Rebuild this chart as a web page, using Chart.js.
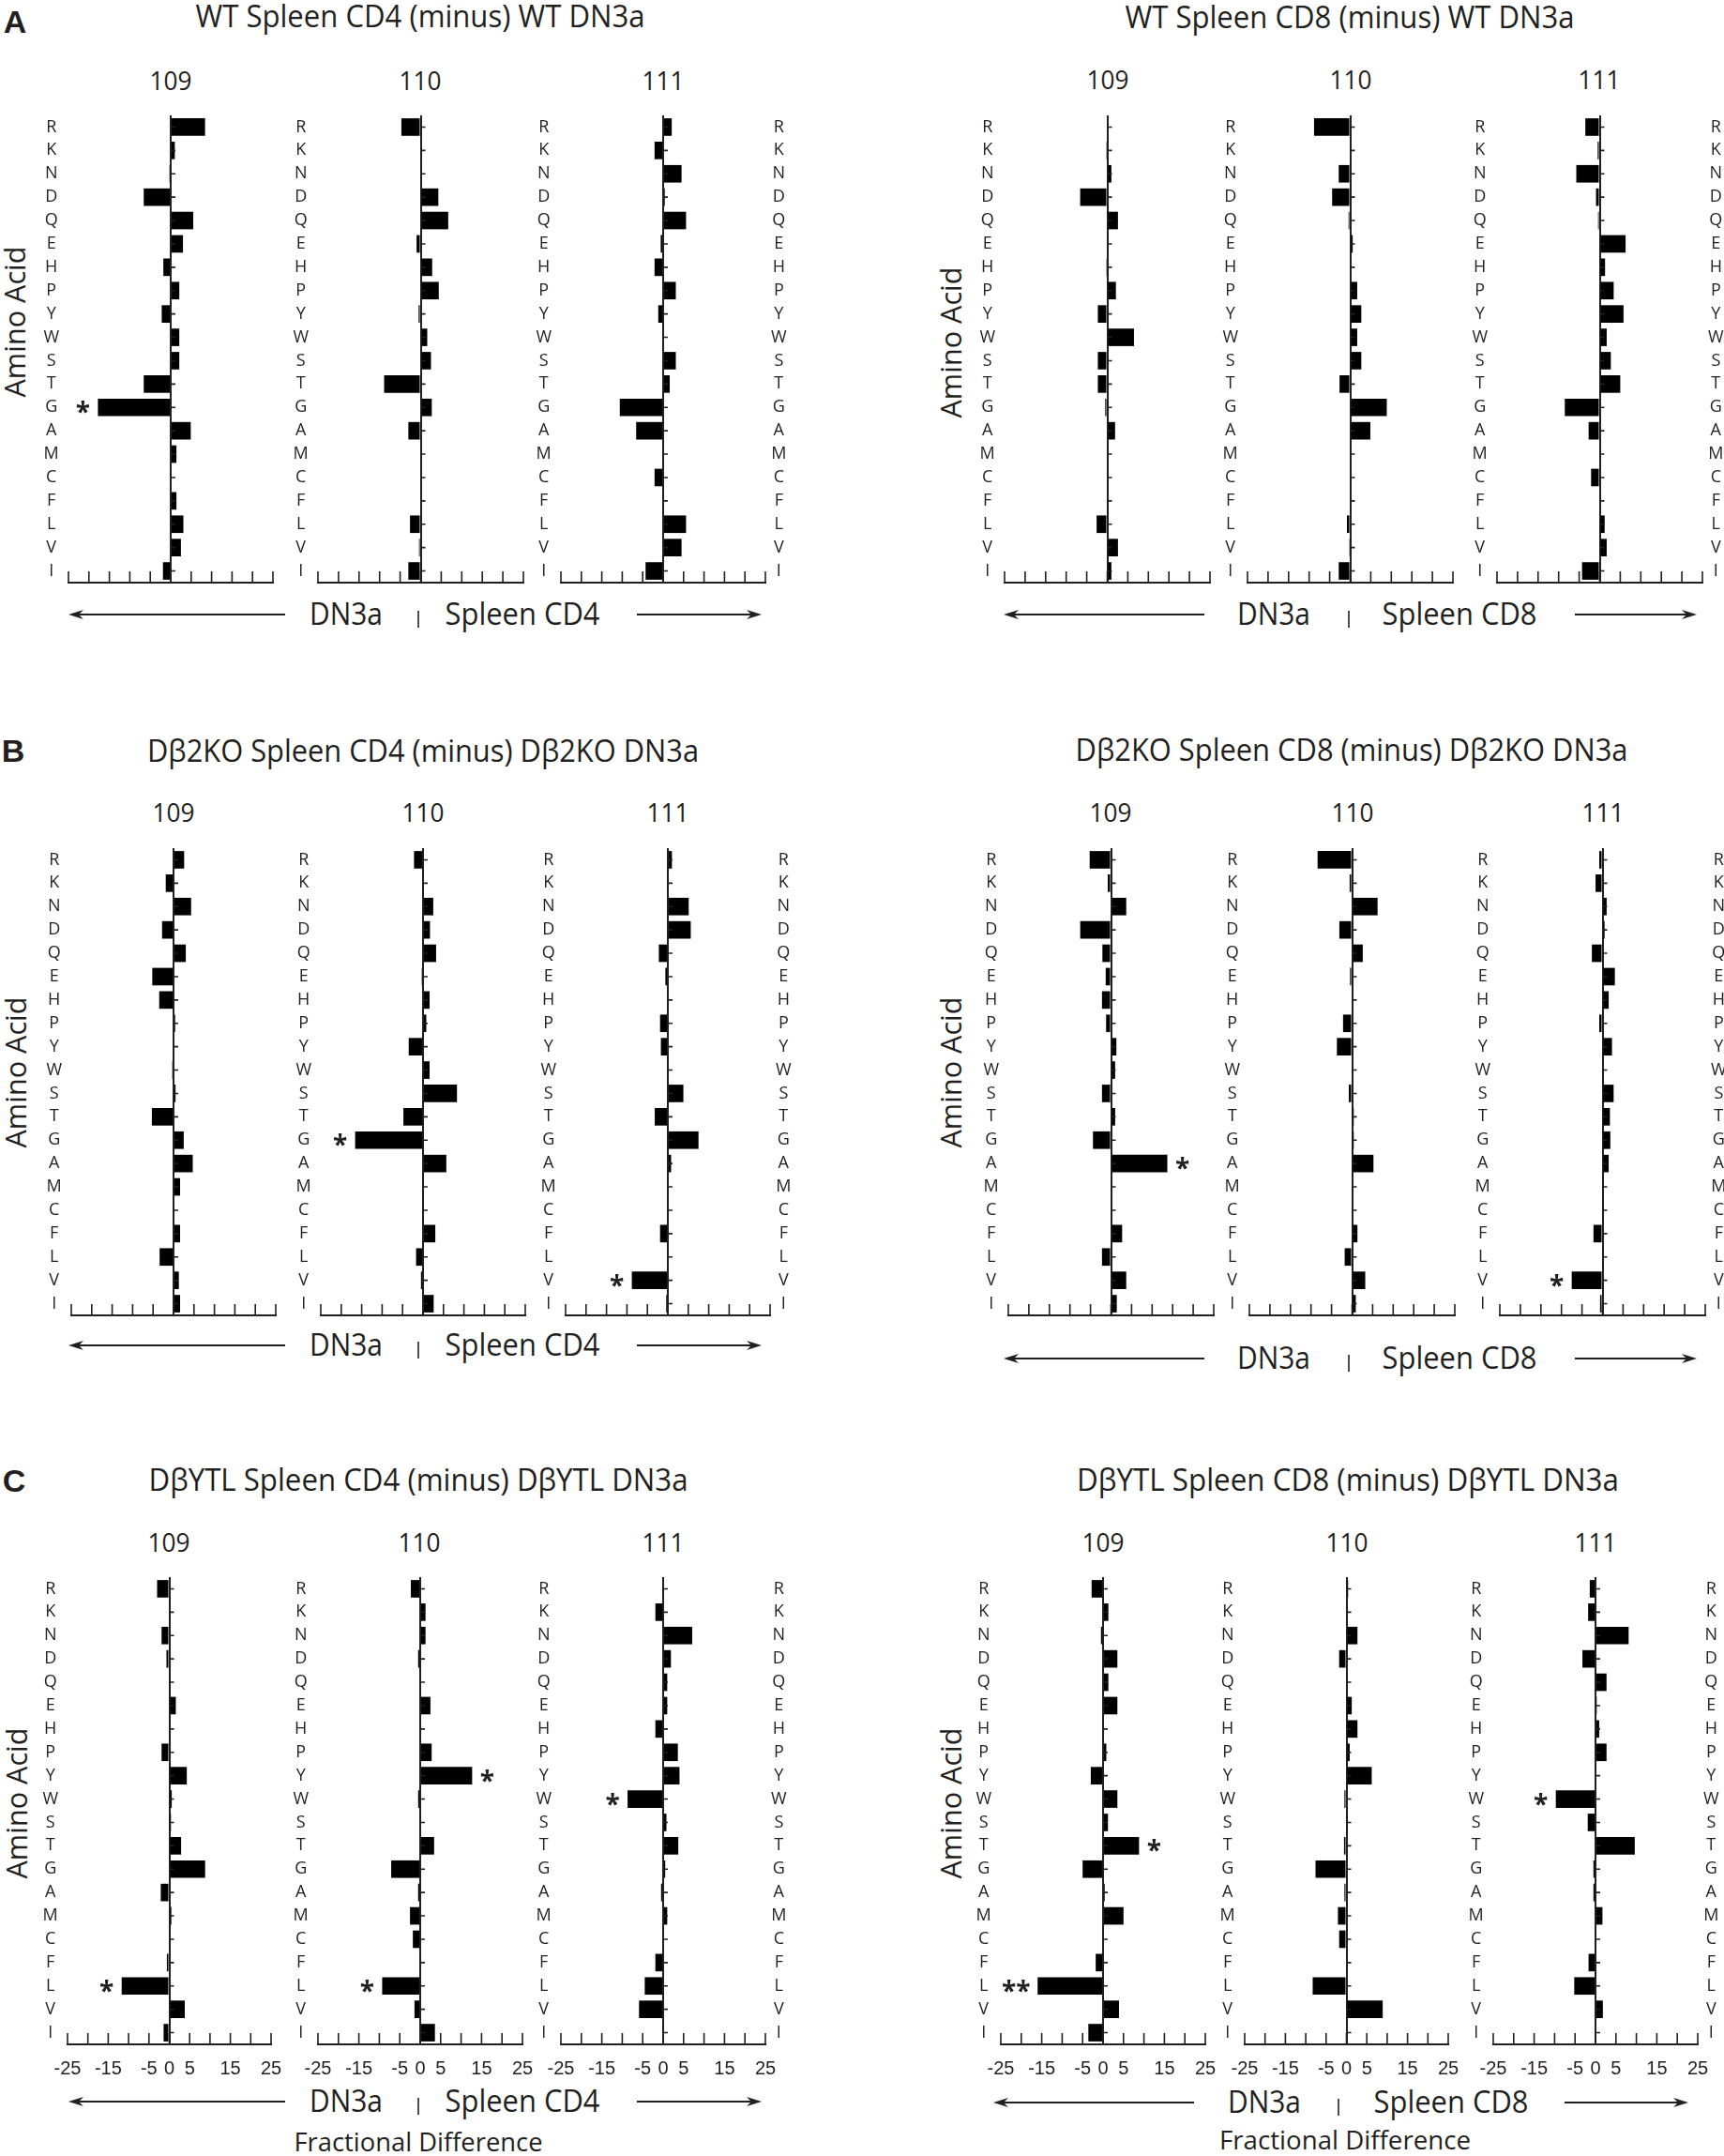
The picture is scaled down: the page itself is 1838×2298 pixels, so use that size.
<!DOCTYPE html>
<html>
<head>
<meta charset="utf-8">
<script src="https://cdn.jsdelivr.net/npm/chart.js@4.4.1/dist/chart.umd.min.js"></script>
<style>
  html, body { margin: 0; padding: 0; background: #fff; }
  #page { position: relative; width: 1838px; height: 2298px; overflow: hidden; font-family: "Open Sans", sans-serif; color: #231f20; }
  .t { position: absolute; white-space: nowrap; line-height: 1; }
  .cv { position: absolute; }
</style>
</head>
<body>
<div id="page"></div>
<script>
// amino acids, top to bottom
const aminoAcids = ['R','K','N','D','Q','E','H','P','Y','W','S','T','G','A','M','C','F','L','V','I'];
const positions = ['109', '110', '111'];
const xTickLabels = [-25, -15, -5, 0, 5, 15, 25];

// fractional difference (spleen minus DN3a), per position
// A: WT
const wtCD4_109 = [8.4, 1.0, -0.3, -6.6, 5.5, 3.0, -1.8, 2.1, -2.2, 2.1, 2.1, -6.6, -17.8, 4.9, 1.4, 0.2, 1.4, 3.1, 2.5, -1.9];
const wtCD4_110 = [-4.7, 0.2, 0.2, 4.3, 6.7, -1.0, 2.8, 4.4, -0.5, 1.6, 2.5, -8.9, 2.7, -3.0, 0, 0, 0, -2.6, -0.4, -3.0];
const wtCD4_111 = [2.1, -2.1, 4.5, 0.4, 5.6, -0.6, -2.1, 3.1, -1.2, 0, 3.1, 1.6, -10.6, -6.6, 0, -2.1, 0, 5.6, 4.5, -4.3];
const wtCD8_109 = [0, -0.3, 1.0, -6.6, 2.6, 0, -0.3, 2.1, -2.3, 6.5, -2.3, -2.3, -0.5, 1.9, 0, 0, 0, -2.6, 2.6, 1.0];
const wtCD8_110 = [-8.8, 0, -2.8, -4.4, -0.4, 0.6, 0, 1.7, 2.7, 1.7, 2.7, -2.6, 8.9, 4.9, 0, 0, 0, -0.8, -0.3, -2.8];
const wtCD8_111 = [-3.5, -0.5, -5.7, -0.9, -0.4, 6.3, 1.3, 3.4, 5.8, 1.7, 2.7, 5.0, -8.5, -2.7, 0, -2.1, 0, 1.2, 1.7, -4.3];
// B: Dβ2KO
const b2CD4_109 = [2.6, -1.9, 4.3, -2.8, 3.0, -5.2, -3.5, 0.4, 0, -0.3, 0.5, -5.3, 2.5, 4.7, 1.6, 0, 1.6, -3.4, 1.3, 1.6];
const b2CD4_110 = [-2.2, -0.2, 2.5, 1.7, 3.2, -0.3, 1.6, 0.8, -3.5, 1.6, 8.3, -4.8, -16.6, 5.7, 0, 0, 3.0, -1.7, -0.5, 2.6];
const b2CD4_111 = [1.0, -0.2, 5.1, 5.6, -2.2, -0.6, 0, -1.9, -1.7, 0, 3.8, -3.2, 7.5, 0.8, 0, 0, -1.9, 0, -8.8, -0.4];
const b2CD8_109 = [-5.2, -0.8, 3.7, -7.5, -2.1, -1.3, -2.2, -1.2, 1.3, 1.0, -2.2, 1.0, -4.4, 13.7, 0, 0, 2.7, -2.2, 3.7, 1.4];
const b2CD8_110 = [-8.4, -0.6, 6.2, -3.1, 2.6, -0.5, 0, -2.2, -3.7, 0, -0.8, 0.4, 0.4, 5.2, 0, 0, 1.3, -1.8, 3.2, 0.9];
const b2CD8_111 = [-0.8, -1.7, 1.0, 0.5, -2.6, 3.0, 1.5, -0.8, 2.3, 0, 2.7, 1.8, 1.9, 1.5, 0, 0, -2.2, 0, -7.5, -0.6];
// C: DβYTL
const ytlCD4_109 = [-3.0, 0, -1.9, -0.7, 0, 1.6, 0, -1.9, 4.3, 0.6, 0.4, 2.9, 8.8, -2.1, 0.5, 0, -0.6, -11.7, 3.8, -1.4];
const ytlCD4_110 = [-2.3, 1.3, 1.3, -0.5, 0, 2.5, 0, 2.8, 12.7, -0.5, 0, 3.4, -7.1, -0.5, -2.5, -1.8, 0, -9.3, -1.4, 3.6];
const ytlCD4_111 = [0.2, -1.9, 7.1, 1.9, 1.0, 1.0, -1.9, 3.6, 4.0, -8.7, 0.8, 3.7, 0.5, -0.5, 1.0, 0, -1.9, -4.5, -5.9, 0];
const ytlCD8_109 = [-2.8, 1.3, -0.5, 3.5, 1.3, 3.5, 0, 0.8, -3.0, 3.5, 1.2, 8.8, -5.0, 0.4, 5.0, 0, -1.8, -16.0, 3.9, -3.6];
const ytlCD8_110 = [0.4, 0, 2.7, -1.8, 0, 1.3, 2.7, 0.8, 6.2, -0.5, 0.3, -0.6, -7.6, -0.5, -2.1, -1.8, 0, -8.3, 8.9, 0];
const ytlCD8_111 = [-1.4, -1.8, 8.1, -3.2, 2.7, 0.3, 0.9, 2.7, 0, -9.7, -1.9, 9.6, -0.5, -0.5, 1.7, 0, -1.7, -5.2, 1.8, 0];

// significance marks: [series, amino acid, mark]
const starMarks = [
  ['wtCD4_109', 'G', '*'],
  ['b2CD4_110', 'G', '*'],
  ['b2CD4_111', 'V', '*'],
  ['b2CD8_109', 'A', '*'],
  ['b2CD8_111', 'V', '*'],
  ['ytlCD4_109', 'L', '*'],
  ['ytlCD4_110', 'Y', '*'],
  ['ytlCD4_110', 'L', '*'],
  ['ytlCD4_111', 'W', '*'],
  ['ytlCD8_109', 'T', '*'],
  ['ytlCD8_109', 'L', '**'],
  ['ytlCD8_111', 'W', '*']
];

const series = {
  wtCD4_109, wtCD4_110, wtCD4_111, wtCD8_109, wtCD8_110, wtCD8_111,
  b2CD4_109, b2CD4_110, b2CD4_111, b2CD8_109, b2CD8_110, b2CD8_111,
  ytlCD4_109, ytlCD4_110, ytlCD4_111, ytlCD8_109, ytlCD8_110, ytlCD8_111
};

const INK = '#231f20';
const ROW = 24.9;
const page = document.getElementById('page');

// panel layout (pixel positions only)
const panels = [
  { key: 'wtCD4', title: 'WT Spleen CD4 (minus) WT DN3a', cell: 'Spleen CD4', rowR: 135, titleX: 448, titleY: 17, titleW: 479, numY: 85,
    xs: [[73, 291], [338.5, 557], [598, 816]], aa: [15, 343], arrowY: 655, arrow: [73, 304, 369, 446, 557, 679, 812], ticks: false },
  { key: 'wtCD8', title: 'WT Spleen CD8 (minus) WT DN3a', cell: 'Spleen CD8', rowR: 135, titleX: 1439, titleY: 18, titleW: 479, numY: 84,
    xs: [[1071, 1290], [1330, 1549], [1596, 1814.5]], aa: [1013, 365], arrowY: 655, arrow: [1070, 1284, 1358, 1438, 1556, 1679, 1809], ticks: false },
  { key: 'b2CD4', title: 'Dβ2KO Spleen CD4 (minus) Dβ2KO DN3a', cell: 'Spleen CD4', rowR: 916, titleX: 451, titleY: 800, titleW: 588, numY: 865,
    xs: [[76, 294], [342, 560], [603, 820.5]], aa: [16, 1143], arrowY: 1434, arrow: [73, 304, 369, 446, 557, 679, 812], ticks: false },
  { key: 'b2CD8', title: 'Dβ2KO Spleen CD8 (minus) Dβ2KO DN3a', cell: 'Spleen CD8', rowR: 916, titleX: 1441, titleY: 799, titleW: 589, numY: 865,
    xs: [[1074.5, 1293], [1332, 1551], [1599, 1818]], aa: [1013, 1143], arrowY: 1448, arrow: [1070, 1284, 1358, 1438, 1556, 1679, 1809], ticks: false },
  { key: 'ytlCD4', title: 'DβYTL Spleen CD4 (minus) DβYTL DN3a', cell: 'Spleen CD4', rowR: 1693, titleX: 446, titleY: 1577, titleW: 575, numY: 1643,
    xs: [[72, 288.5], [338.5, 556], [598, 816]], aa: [17, 1922], arrowY: 2240, arrow: [73, 304, 369, 446, 557, 679, 812], ticks: true, fdX: 446, fdY: 2282, fdW: 265 },
  { key: 'ytlCD8', title: 'DβYTL Spleen CD8 (minus) DβYTL DN3a', cell: 'Spleen CD8', rowR: 1693, titleX: 1437, titleY: 1577, titleW: 578, numY: 1643,
    xs: [[1067, 1285], [1327, 1544], [1592, 1810]], aa: [1013, 1922], arrowY: 2241, arrow: [1059, 1273, 1348, 1427, 1547, 1668, 1800], ticks: true, fdX: 1434, fdY: 2280, fdW: 268 }
];

const letters = [['A', 16, 23], ['B', 14, 800], ['C', 15, 1578]];

function addText(txt, cx, cy, size, targetW, o) {
  o = o || {};
  const el = document.createElement('div');
  el.className = 't';
  el.textContent = txt;
  el.style.fontSize = size + 'px';
  if (o.family) el.style.fontFamily = o.family;
  if (o.bold) el.style.fontWeight = '700';
  page.appendChild(el);
  const w = el.getBoundingClientRect().width;
  const sx = targetW ? targetW / w : 1;
  el.style.left = cx + 'px';
  el.style.top = cy + 'px';
  el.style.transform = 'translate(-50%,-50%)' + (o.rotate ? ' rotate(-90deg)' : '') + ' scaleX(' + sx.toFixed(4) + ')';
}

// ticks on the axis, little row ticks on the zero line and the asterisks
const decor = {
  id: 'decor',
  afterDatasetsDraw(chart, args, opts) {
    const { ctx, chartArea } = chart;
    const x = chart.scales.x, y = chart.scales.y;
    const vals = chart.data.datasets[0].data;
    ctx.save();
    ctx.strokeStyle = INK;
    ctx.lineWidth = 1.6;
    ctx.beginPath();
    x.ticks.forEach(t => {
      const px = x.getPixelForValue(t.value);
      ctx.moveTo(px, chartArea.bottom);
      ctx.lineTo(px, chartArea.bottom - 12);
    });
    const z = x.getPixelForValue(0);
    aminoAcids.forEach((a, i) => {
      const py = y.getPixelForValue(i);
      ctx.moveTo(z, py);
      ctx.lineTo(z + 5, py);
    });
    ctx.stroke();
    ctx.fillStyle = INK;
    ctx.font = 'bold 28px "Open Sans"';
    ctx.textAlign = 'center';
    ctx.textBaseline = 'alphabetic';
    (opts.stars || []).forEach(s => {
      const i = aminoAcids.indexOf(s[1]);
      const v = vals[i];
      const gap = s[2].length > 1 ? 23 : 16;
      const px = x.getPixelForValue(v) + (v < 0 ? -gap : gap);
      ctx.fillText(s[2], px, y.getPixelForValue(i) + 15);
    });
    ctx.restore();
  }
};

function subchart(name, values, xs, xe, rowR, last, ticks) {
  // padding is generous so Chart.js does not shrink the area for the letter labels
  const side = 40, padTop = 24, bottomH = ticks ? 44 : 24;
  const top = rowR - ROW / 2;
  const bottom = rowR + 19 * ROW + ROW / 2;
  const w = Math.round((xe - xs) + 2 * side);
  const h = Math.round((bottom - top) + padTop + bottomH);
  const box = document.createElement('div');
  box.className = 'cv';
  box.style.left = (xs - side) + 'px';
  box.style.top = (top - padTop) + 'px';
  box.style.width = w + 'px';
  box.style.height = h + 'px';
  const cv = document.createElement('canvas');
  cv.width = w; cv.height = h;
  cv.style.width = w + 'px'; cv.style.height = h + 'px';
  box.appendChild(cv);
  page.appendChild(box);

  const letterFont = { family: '"Open Sans"', size: 18 };
  const scales = {
    x: {
      type: 'linear', min: -25, max: 25, position: 'bottom',
      afterFit: s => { s.height = bottomH; },
      ticks: {
        display: ticks, stepSize: 5, autoSkip: false, maxRotation: 0, padding: 14, color: INK,
        font: { family: '"Liberation Sans", Arial, sans-serif', size: 20 },
        callback: v => xTickLabels.includes(v) ? String(v) : ''
      },
      grid: { drawTicks: false, lineWidth: 2, color: c => (c.tick && c.tick.value === 0) ? INK : 'rgba(0,0,0,0)' },
      border: { display: true, color: INK, width: 2 }
    },
    y: {
      type: 'category', labels: aminoAcids, position: 'left', offset: true,
      afterFit: s => { s.width = side; },
      ticks: { autoSkip: false, crossAlign: 'center', padding: 10, color: INK, font: letterFont },
      grid: { display: false, drawTicks: false },
      border: { display: false }
    }
  };
  if (last) {
    scales.y2 = {
      type: 'category', labels: aminoAcids, position: 'right', offset: true,
      afterFit: s => { s.width = side; },
      ticks: { autoSkip: false, crossAlign: 'center', padding: 6, color: INK, font: letterFont },
      grid: { display: false, drawTicks: false },
      border: { display: false }
    };
  }

  new Chart(cv, {
    type: 'bar',
    data: {
      labels: aminoAcids,
      datasets: [{ data: values, backgroundColor: '#000', borderWidth: 0, barPercentage: 0.75, categoryPercentage: 1 }]
    },
    options: {
      indexAxis: 'y',
      responsive: false,
      animation: false,
      layout: { padding: { top: padTop, right: last ? 0 : side, left: 0, bottom: 0 } },
      scales: scales,
      plugins: {
        legend: { display: false },
        tooltip: { enabled: false },
        decor: { stars: starMarks.filter(s => s[0] === name) }
      }
    },
    plugins: [decor]
  });
}

// arrows and separators
let svg = '<svg width="1838" height="2298" style="position:absolute;left:0;top:0" xmlns="http://www.w3.org/2000/svg">';
panels.forEach(p => {
  const [l1, l2, dn, bar, sp, r1, r2] = p.arrow;
  const y = p.arrowY;
  svg += `<line x1="${l1 + 8}" y1="${y}" x2="${l2}" y2="${y}" stroke="${INK}" stroke-width="2"/>`;
  svg += `<polygon points="${l1},${y} ${l1 + 16},${y - 5} ${l1 + 11},${y} ${l1 + 16},${y + 5}" fill="${INK}"/>`;
  svg += `<line x1="${r1}" y1="${y}" x2="${r2 - 8}" y2="${y}" stroke="${INK}" stroke-width="2"/>`;
  svg += `<polygon points="${r2},${y} ${r2 - 16},${y - 5} ${r2 - 11},${y} ${r2 - 16},${y + 5}" fill="${INK}"/>`;
  svg += `<line x1="${bar}" y1="${y - 4}" x2="${bar}" y2="${y + 14}" stroke="${INK}" stroke-width="1.6"/>`;
});
svg += '</svg>';
page.insertAdjacentHTML('beforeend', svg);

letters.forEach(l => addText(l[0], l[1], l[2], 34, 0, { bold: true, family: '"Liberation Sans", Arial, sans-serif' }));

panels.forEach(p => {
  addText(p.title, p.titleX, p.titleY, 32, p.titleW);
  addText('Amino Acid', p.aa[0], p.aa[1], 31, 161, { rotate: true });
  const [l1, l2, dn, bar, sp] = p.arrow;
  addText('DN3a', dn, p.arrowY - 1, 32, 78);
  addText(p.cell, sp, p.arrowY - 1, 32, 165);
  if (p.fdX) addText('Fractional Difference', p.fdX, p.fdY, 27, p.fdW);
  p.xs.forEach((r, k) => {
    const name = p.key + '_' + positions[k];
    addText(positions[k], (r[0] + r[1]) / 2, p.numY, 28, 45);
    subchart(name, series[name], r[0], r[1], p.rowR, k === 2, p.ticks);
  });
});
</script>
</body>
</html>
